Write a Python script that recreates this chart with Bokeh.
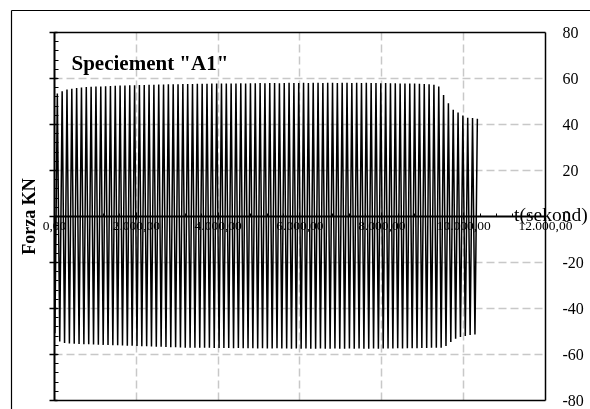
from bokeh.plotting import figure
from bokeh.models import (LinearAxis, SingleIntervalTicker, FixedTicker, Label, Range1d,
                          Grid, CustomLabelingPolicy, CustomJSTickFormatter)
from bokeh.embed import file_html
from bokeh.resources import INLINE

# ---- data ----
title_text = 'Speciement "A1"'
y_label = "Forza KN"
x_label = "t(sekond)"
x_tick_values = [0, 2000, 4000, 6000, 8000, 10000, 12000]
x_tick_labels = ["0,00", "2.000,00", "4.000,00", "6.000,00", "8.000,00", "10.000,00", "12.000,00"]
y_grid_values = [-60, -40, -20, 20, 40, 60]
t_min, t_max = 0, 12000
f_min, f_max = -80, 80
first_cycle_s = 10
cycle_period_s = 118

peaks = [
    53.5, 54.5, 55.2, 55.6, 55.9, 56.1, 56.3, 56.4, 56.5, 56.6,
    56.7, 56.8, 56.9, 57.0, 57.0, 57.1, 57.1, 57.2, 57.2, 57.3,
    57.3, 57.4, 57.4, 57.5, 57.5, 57.5, 57.6, 57.6, 57.6, 57.7,
    57.7, 57.7, 57.8, 57.8, 57.8, 57.9, 57.8, 57.9, 58.0, 57.9,
    58.0, 58.0, 58.1, 58.0, 58.1, 58.1, 58.0, 58.1, 58.2, 58.1,
    58.1, 58.2, 58.1, 58.2, 58.2, 58.1, 58.2, 58.2, 58.1, 58.2,
    58.2, 58.1, 58.2, 58.1, 58.2, 58.1, 58.1, 58.0, 58.1, 58.0,
    58.0, 57.9, 57.9, 57.8, 57.8, 57.7, 57.6, 57.5, 57.3, 56.5,
    52.9, 49.3, 46.4, 45.2, 43.9, 43.0, 42.8, 42.5,
]
troughs = [
    -50.7, -54.3, -55.0, -55.2, -55.3, -55.4, -55.5, -55.5, -55.6, -55.7,
    -55.8, -55.9, -56.0, -56.0, -56.1, -56.2, -56.2, -56.3, -56.4, -56.4,
    -56.5, -56.6, -56.6, -56.7, -56.8, -56.8, -56.9, -57.0, -57.0, -57.0,
    -57.1, -57.1, -57.1, -57.2, -57.2, -57.2, -57.2, -57.3, -57.2, -57.3,
    -57.3, -57.3, -57.4, -57.3, -57.4, -57.4, -57.3, -57.4, -57.4, -57.5,
    -57.4, -57.5, -57.4, -57.5, -57.5, -57.4, -57.5, -57.5, -57.4, -57.5,
    -57.5, -57.4, -57.5, -57.4, -57.5, -57.5, -57.4, -57.5, -57.4, -57.4,
    -57.4, -57.3, -57.4, -57.3, -57.3, -57.3, -57.2, -57.2, -57.1, -57.1,
    -57.0, -56.3, -54.5, -53.1, -52.4, -51.9, -51.5, -51.3,
]

# waveform: start at 0, then trough -> peak for each cycle
ts = [0.0]
fs = [0.0]
for i, (lo, hi) in enumerate(zip(troughs, peaks)):
    ts.append(first_cycle_s + i * cycle_period_s)
    fs.append(lo)
    ts.append(first_cycle_s + (i + 0.5) * cycle_period_s)
    fs.append(hi)

SERIF = "Liberation Serif"

# frame spans the whole chart area; the inner plot box is drawn with fixed axes
X_VIEW = (-1051, 13100)
Y_VIEW = (-83.9, 89.6)

p = figure(
    width=582, height=401,
    x_range=Range1d(*X_VIEW), y_range=Range1d(*Y_VIEW),
    x_axis_location=None, y_axis_location=None,
    output_backend="svg", toolbar_location=None,
    min_border_left=3, min_border_top=2, min_border_right=0, min_border_bottom=0,
    styles={"position": "fixed", "left": "8px", "top": "8px"},
)
p.outline_line_color = None
p.background_fill_color = "white"
p.border_fill_color = "white"
p.xgrid.visible = False
p.ygrid.visible = False

NO_LABELS = CustomLabelingPolicy(code="""
try { for (let i = 0; i < indices.size; i++) indices.unset(i) } catch (e) {}
return indices
""")
EMPTY_FMT = CustomJSTickFormatter(code="return ''")
INT_FMT = CustomJSTickFormatter(code="return tick.toFixed(0)")


def bare_axis(**kw):
    ax = LinearAxis(ticker=FixedTicker(ticks=[]), **kw)
    ax.axis_line_color = "black"
    ax.major_tick_line_color = None
    ax.minor_tick_line_color = None
    ax.major_tick_out = 0
    ax.major_tick_in = 0
    ax.minor_tick_out = 0
    ax.minor_tick_in = 0
    ax.major_label_standoff = 0
    return ax


# outer chart-area border (left and top)
outer_left = bare_axis()
outer_left.axis_line_width = 1.2
p.add_layout(outer_left, "left")
outer_top = bare_axis()
outer_top.axis_line_width = 1.2
p.add_layout(outer_top, "above")

# grids limited to the plot box
has_cross = "cross_bounds" in Grid.properties()
if has_cross:
    gx = Grid(dimension=0, ticker=FixedTicker(ticks=x_tick_values[1:-1]),
              cross_bounds=(f_min, f_max))
    gy = Grid(dimension=1, ticker=FixedTicker(ticks=y_grid_values),
              cross_bounds=(t_min, t_max))
    for g in (gx, gy):
        g.grid_line_color = "#c8c8c8"
        g.grid_line_dash = "8 4"
        g.grid_line_width = 1.5
        p.add_layout(g)
else:
    p.segment(x0=x_tick_values[1:-1], x1=x_tick_values[1:-1], y0=f_min, y1=f_max,
              line_color="#c8c8c8", line_dash="8 4", line_width=1.5)
    p.segment(x0=t_min, x1=t_max, y0=y_grid_values, y1=y_grid_values,
              line_color="#c8c8c8", line_dash="8 4", line_width=1.5)

# signal
p.line(ts, fs, line_color="black", line_width=1.5)

# box top and bottom edges
box_top = bare_axis(fixed_location=f_max, bounds=(t_min, t_max))
box_top.axis_line_width = 1.5
p.add_layout(box_top, "above")
box_bottom = bare_axis(fixed_location=f_min, bounds=(t_min, t_max))
box_bottom.axis_line_width = 1.5
p.add_layout(box_bottom, "below")

# x axis through zero
xa = LinearAxis(fixed_location=0, bounds=(t_min, t_max),
                ticker=SingleIntervalTicker(interval=2000, num_minor_ticks=5))
xa.major_label_overrides = {v: s for v, s in zip(x_tick_values, x_tick_labels)}
xa.major_label_text_font = SERIF
xa.major_label_text_font_size = "13.5px"
xa.major_label_text_color = "black"
xa.major_label_standoff = 2
xa.axis_line_color = "black"
xa.axis_line_width = 2
xa.major_tick_line_color = "black"
xa.major_tick_in = 4
xa.major_tick_out = 3
xa.minor_tick_line_color = "black"
xa.minor_tick_in = 3
xa.minor_tick_out = 0
p.add_layout(xa, "below")

# left value axis at t = 0 (ticks only) with its title
ya = LinearAxis(fixed_location=0, bounds=(f_min, f_max),
                ticker=SingleIntervalTicker(interval=20, num_minor_ticks=5))
ya.formatter = EMPTY_FMT
ya.major_label_policy = NO_LABELS
ya.major_label_standoff = 0
ya.axis_line_color = "black"
ya.axis_line_width = 2
ya.major_tick_line_color = "black"
ya.major_tick_line_width = 1.5
ya.major_tick_in = 3
ya.major_tick_out = 5
ya.minor_tick_line_color = "black"
ya.minor_tick_in = 4
ya.minor_tick_out = 0
ya.axis_label = y_label
ya.axis_label_text_font = SERIF
ya.axis_label_text_font_style = "bold"
ya.axis_label_text_font_size = "18px"
ya.axis_label_text_color = "black"
ya.axis_label_standoff = 11
p.add_layout(ya, "left")

# right edge of the box with the value labels
ra = LinearAxis(fixed_location=t_max, bounds=(f_min, f_max),
                ticker=SingleIntervalTicker(interval=20), formatter=INT_FMT)
ra.axis_line_color = "black"
ra.axis_line_width = 1.5
ra.major_tick_line_color = None
ra.minor_tick_line_color = None
ra.major_tick_out = 0
ra.major_tick_in = 0
ra.major_label_standoff = 13
ra.major_label_text_font = SERIF
ra.major_label_text_font_size = "16px"
ra.major_label_text_color = "black"
p.add_layout(ra, "right")

# texts
p.add_layout(Label(x=415, y=66.9, text=title_text, text_font=SERIF,
                   text_font_style="bold", text_font_size="21px",
                   text_baseline="alphabetic", text_color="black"))
p.add_layout(Label(x=11230, y=0.8, text=x_label, text_font=SERIF,
                   text_font_size="19.5px", text_baseline="alphabetic",
                   text_color="black"))

open("out.html", "w").write(file_html(p, INLINE))
